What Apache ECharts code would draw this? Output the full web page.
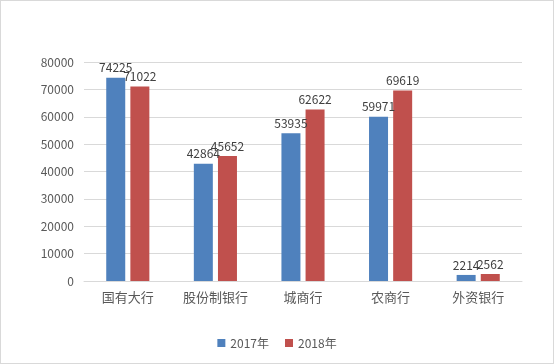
<!DOCTYPE html>
<html><head><meta charset="utf-8">
<script src="https://cdn.jsdelivr.net/npm/echarts@6/dist/echarts.min.js"></script>
<style>html,body{margin:0;padding:0;background:#fff;}#c{width:554px;height:364px;box-sizing:border-box;border:1px solid #d9d9d9;}</style>
</head><body><div id="c"></div>
<script>
const categories = ['国有大行','股份制银行','城商行','农商行','外资银行'];
const s2017 = [74225, 42864, 53935, 59971, 2214];
const s2018 = [71022, 45652, 62622, 69619, 2562];
const seriesNames = ['2017年','2018年'];
const chart = echarts.init(document.getElementById('c'));
const font = "'Noto Sans CJK SC', sans-serif";
chart.setOption({
  animation:false,
  textStyle:{fontFamily:font},
  grid:{left:83,right:31,top:61,bottom:82,containLabel:false},
  legend:{bottom:9,left:'center',itemWidth:8,itemHeight:8,itemGap:16,icon:'rect',
    textStyle:{color:'#595959',fontSize:12,fontFamily:font},data:seriesNames},
  xAxis:{type:'category',data:categories,
    axisLine:{lineStyle:{color:'#d9d9d9'}},axisTick:{show:false},
    axisLabel:{color:'#595959',fontSize:13,margin:10,fontFamily:font}},
  yAxis:{type:'value',min:0,max:80000,interval:10000,
    axisLine:{show:false},axisTick:{show:false},
    splitLine:{lineStyle:{color:'#d9d9d9'}},
    axisLabel:{color:'#595959',fontSize:12,margin:10,fontFamily:font,formatter:v=>String(v)}},
  series:[
    {name:seriesNames[0],type:'bar',data:s2017,barWidth:19,barGap:'27%',
     itemStyle:{color:'#4f81bd'},
     label:{show:true,position:'top',color:'#404040',fontSize:12,distance:4,fontFamily:font}},
    {name:seriesNames[1],type:'bar',data:s2018,barWidth:19,
     itemStyle:{color:'#c0504d'},
     label:{show:true,position:'top',color:'#404040',fontSize:12,distance:4,fontFamily:font}}
  ]
});
</script></body></html>
